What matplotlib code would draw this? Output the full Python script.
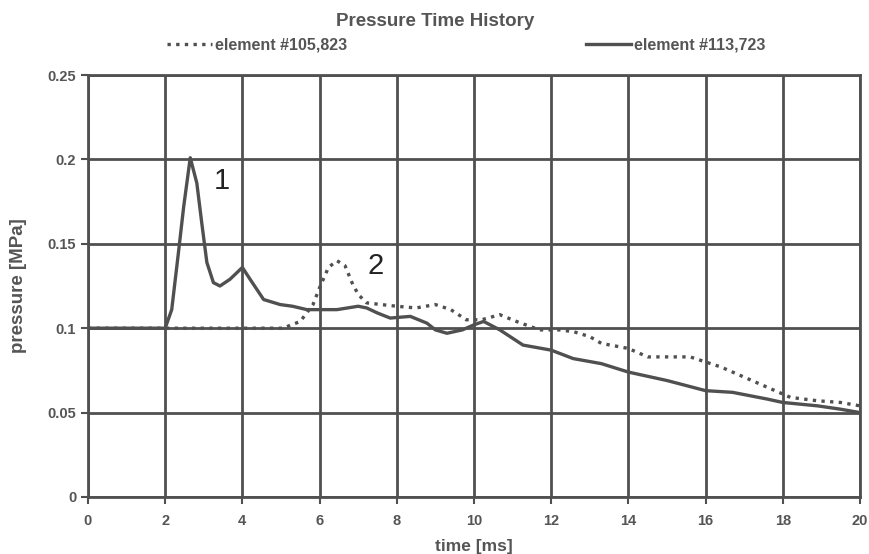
import matplotlib
matplotlib.use("Agg")
import matplotlib.pyplot as plt

# time [ms] / pressure [MPa]
t_105823 = [0, 2, 4, 5.05, 5.5, 5.83, 6.0, 6.23, 6.45, 6.66, 6.84, 7.0, 7.22, 7.6, 8.0,
            8.5, 9.0, 9.4, 9.8, 10.2, 10.67, 11.1, 11.7, 12.2, 12.57, 13.0, 13.3, 14.0,
            14.5, 15.0, 15.6, 16.0, 16.4, 16.8, 17.2, 17.6, 18.2, 18.9, 19.5, 20.0]
p_105823 = [0.1, 0.1, 0.1, 0.1, 0.104, 0.114, 0.124, 0.136, 0.140, 0.137, 0.127, 0.12,
            0.115, 0.114, 0.113, 0.112, 0.114, 0.111, 0.105, 0.105, 0.108, 0.104, 0.099,
            0.099, 0.098, 0.095, 0.091, 0.088, 0.083, 0.083, 0.083, 0.080, 0.077, 0.073,
            0.069, 0.065, 0.059, 0.057, 0.056, 0.054]

t_113723 = [0, 2, 2.17, 2.35, 2.48, 2.65, 2.82, 2.95, 3.08, 3.25, 3.42, 3.68, 4.0, 4.2,
            4.55, 4.98, 5.3, 5.67, 6.0, 6.45, 7.0, 7.22, 7.5, 7.83, 8.35, 8.78, 9.0, 9.3,
            9.7, 10.0, 10.25, 10.67, 11.27, 12.0, 12.57, 13.3, 14.0, 15.0, 16.0, 16.7,
            17.6, 18.0, 18.9, 19.5, 20.0]
p_113723 = [0.1, 0.1, 0.111, 0.146, 0.172, 0.201, 0.186, 0.162, 0.139, 0.127, 0.125,
            0.129, 0.136, 0.129, 0.117, 0.114, 0.113, 0.111, 0.111, 0.111, 0.113, 0.112,
            0.109, 0.106, 0.107, 0.103, 0.099, 0.097, 0.099, 0.102, 0.104, 0.099, 0.09,
            0.087, 0.082, 0.079, 0.074, 0.069, 0.063, 0.062, 0.058, 0.056, 0.054, 0.052,
            0.050]

x_ticks = [0, 2, 4, 6, 8, 10, 12, 14, 16, 18, 20]
y_ticks = [0, 0.05, 0.1, 0.15, 0.2, 0.25]
y_tick_labels = ["0", "0.05", "0.1", "0.15", "0.2", "0.25"]

plt.rcParams['font.family'] = ['Liberation Sans', 'DejaVu Sans']
dark = '#505050'
text_col = '#555555'

fig = plt.figure(figsize=(8.7, 5.54), dpi=100)
ax = fig.add_axes([0.1011, 0.1029, 0.8874, 0.7617])

ax.plot(t_105823, p_105823, color=dark, lw=2.4, linestyle=(0, (1, 1.6)),
        dash_capstyle='butt', label='element #105,823', zorder=3)
ax.plot(t_113723, p_113723, color=dark, lw=2.4, label='element #113,723', zorder=4)

ax.set_xlim(0, 20)
ax.set_ylim(0, 0.25)
ax.set_xticks(x_ticks)
ax.set_yticks(y_ticks)
ax.set_yticklabels(y_tick_labels)
ax.grid(True, color=dark, lw=2.0)
ax.set_axisbelow(True)
for s in ax.spines.values():
    s.set_color(dark)
    s.set_linewidth(2.0)
ax.tick_params(colors=dark, width=1.5, length=5, labelcolor=text_col, labelsize=10.5)
ax.tick_params(axis='x', pad=7)
for lab in ax.get_xticklabels() + ax.get_yticklabels():
    lab.set_fontweight('bold')

ax.set_xlabel('time [ms]', fontsize=12.5, fontweight='bold', color=text_col, labelpad=8)
ax.set_ylabel('pressure [MPa]', fontsize=13.5, fontweight='bold', color=text_col, labelpad=15)

ax.text(3.47, 0.187, '1', fontsize=21, color='#222222', ha='center', va='center')
ax.text(7.44, 0.137, '2', fontsize=21, color='#222222', ha='center', va='center')

fig.text(0.5, 0.962, 'Pressure Time History', fontsize=13.5, fontweight='bold',
         color=text_col, ha='center', va='center')

leg = ax.legend(loc='center', bbox_to_anchor=(0.49, 1.07), ncol=2, frameon=False,
                fontsize=11.5, columnspacing=15, handlelength=2.8, handletextpad=0.2)
for txt in leg.get_texts():
    txt.set_fontweight('bold')
    txt.set_color(text_col)

fig.savefig('out.png', dpi=100)
